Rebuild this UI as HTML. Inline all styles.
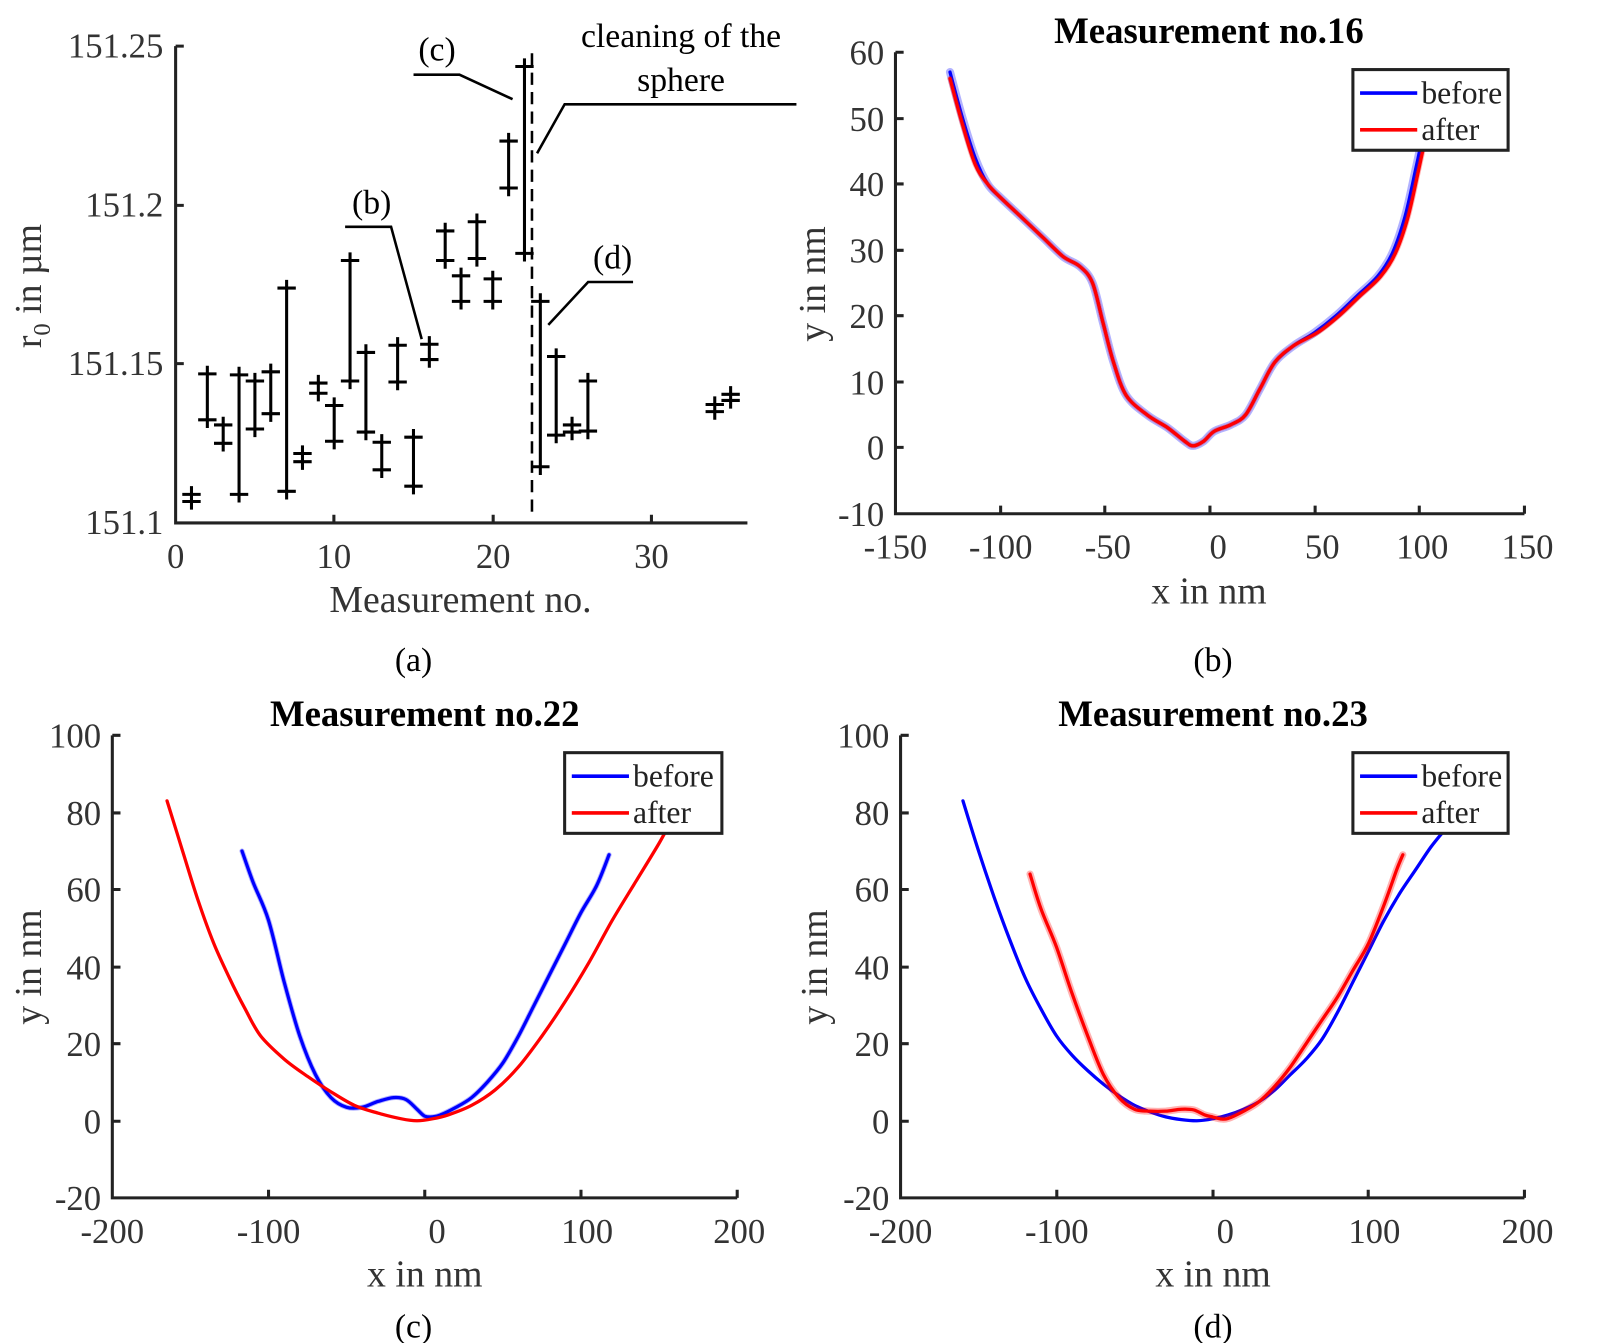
<!DOCTYPE html>
<html><head><meta charset="utf-8"><style>
html,body{margin:0;padding:0;background:#fff;}
svg{display:block;}
text{font-family:"Liberation Serif",serif;}
.t{font-size:34px;fill:#333;}
.xl{font-size:37px;fill:#333;}
.ti{font-size:36px;font-weight:bold;fill:#000;}
.lg{font-size:31px;fill:#222;}
.an{font-size:33px;fill:#000;}
</style></head><body>
<svg id="s" width="1600" height="1343" viewBox="0 0 1567 1315" xmlns="http://www.w3.org/2000/svg">
<g stroke="#222" stroke-width="3" fill="none">
<path d="M172,45 V512 H732"/>
<path d="M172,45 h8 M172,201 h8 M172,356 h8 M327,512 v-8 M483,512 v-8 M638,512 v-8"/>
<path d="M877,51 V503 H1493"/>
<path d="M877,51 h8 M877,116 h8 M877,180 h8 M877,245 h8 M877,309 h8 M877,374 h8 M877,438 h8 M980,503 v-8 M1082,503 v-8 M1185,503 v-8 M1288,503 v-8 M1390,503 v-8 M1493,503 v-8"/>
<path d="M110,720 V1173 H722"/>
<path d="M110,720 h8 M110,796 h8 M110,871 h8 M110,947 h8 M110,1022 h8 M110,1098 h8 M263,1173 v-8 M416,1173 v-8 M569,1173 v-8 M722,1173 v-8"/>
<path d="M882,720 V1173 H1493"/>
<path d="M882,720 h8 M882,796 h8 M882,871 h8 M882,947 h8 M882,1022 h8 M882,1098 h8 M1035,1173 v-8 M1188,1173 v-8 M1340,1173 v-8 M1493,1173 v-8"/>
</g>
<g id="ebars" stroke="#000" stroke-width="3" fill="none"></g>
<g stroke="#000" stroke-width="2.5" fill="none">
<path d="M521,52 V505" stroke-dasharray="12,7"/>
<path d="M405,73 H450 L502,97"/>
<path d="M780,102 H553 L526,150"/>
<path d="M338,222 H383 L413,332"/>
<path d="M620,276 H576 L537,318"/>
</g>
<g id="curves" fill="none" stroke-linejoin="round" stroke-linecap="round"></g>
<g class="t" text-anchor="end">
<text x="160" y="56">151.25</text><text x="160" y="212">151.2</text><text x="160" y="367">151.15</text><text x="160" y="523">151.1</text>
</g>
<g class="t" text-anchor="middle">
<text x="172" y="556">0</text><text x="327" y="556">10</text><text x="483" y="556">20</text><text x="638" y="556">30</text>
</g>
<g class="xl" text-anchor="middle">
<text x="451" y="599">Measurement no.</text>
<text transform="translate(40,280) rotate(-90)">r<tspan font-size="24" dy="9">0</tspan><tspan dy="-9"> in µm</tspan></text>
</g>
<g class="an" text-anchor="middle">
<text x="428" y="59">(c)</text><text x="364" y="209">(b)</text><text x="600" y="263">(d)</text>
<text x="667" y="46">cleaning of the</text><text x="667" y="89">sphere</text>
<text x="405" y="657">(a)</text><text x="1188" y="657">(b)</text><text x="405" y="1310">(c)</text><text x="1188" y="1310">(d)</text>
</g>
<text class="ti" x="1184" y="42" text-anchor="middle">Measurement no.16</text>
<g class="t" text-anchor="end">
<text x="866" y="63">60</text><text x="866" y="128">50</text><text x="866" y="192">40</text><text x="866" y="257">30</text><text x="866" y="321">20</text><text x="866" y="386">10</text><text x="866" y="450">0</text><text x="866" y="515">-10</text>
</g>
<g class="t" text-anchor="middle">
<text x="877" y="547">-150</text><text x="980" y="547">-100</text><text x="1085" y="547">-50</text><text x="1193" y="547">0</text><text x="1295" y="547">50</text><text x="1393" y="547">100</text><text x="1496" y="547">150</text>
</g>
<g class="xl" text-anchor="middle">
<text x="1184" y="591">x in nm</text>
<text transform="translate(808,278) rotate(-90)">y in nm</text>
</g>
<text class="ti" x="416" y="711" text-anchor="middle">Measurement no.22</text>
<g class="t" text-anchor="end">
<text x="99" y="732">100</text><text x="99" y="808">80</text><text x="99" y="883">60</text><text x="99" y="959">40</text><text x="99" y="1034">20</text><text x="99" y="1110">0</text><text x="99" y="1185">-20</text>
</g>
<g class="t" text-anchor="middle">
<text x="110" y="1217">-200</text><text x="263" y="1217">-100</text><text x="428" y="1217">0</text><text x="575" y="1217">100</text><text x="724" y="1217">200</text>
</g>
<g class="xl" text-anchor="middle">
<text x="416" y="1260">x in nm</text>
<text transform="translate(40,947) rotate(-90)">y in nm</text>
</g>
<text class="ti" x="1188" y="711" text-anchor="middle">Measurement no.23</text>
<g class="t" text-anchor="end">
<text x="871" y="732">100</text><text x="871" y="808">80</text><text x="871" y="883">60</text><text x="871" y="959">40</text><text x="871" y="1034">20</text><text x="871" y="1110">0</text><text x="871" y="1185">-20</text>
</g>
<g class="t" text-anchor="middle">
<text x="882" y="1217">-200</text><text x="1035" y="1217">-100</text><text x="1200" y="1217">0</text><text x="1346" y="1217">100</text><text x="1496" y="1217">200</text>
</g>
<g class="xl" text-anchor="middle">
<text x="1188" y="1260">x in nm</text>
<text transform="translate(810,947) rotate(-90)">y in nm</text>
</g>
<g fill="#fff" stroke="#222" stroke-width="3">
<rect x="1325" y="68" width="152" height="79"/>
<rect x="553" y="737" width="154" height="79"/>
<rect x="1325" y="737" width="152" height="79"/>
</g>
<g stroke-width="3.5">
<path d="M1332,91 h56" stroke="#00f"/><path d="M1332,127 h56" stroke="#f00"/>
<path d="M560,760 h56" stroke="#00f"/><path d="M560,796 h56" stroke="#f00"/>
<path d="M1332,760 h56" stroke="#00f"/><path d="M1332,796 h56" stroke="#f00"/>
</g>
<g class="lg">
<text x="1392" y="101">before</text><text x="1392" y="137">after</text>
<text x="620" y="770">before</text><text x="620" y="806">after</text>
<text x="1392" y="770">before</text><text x="1392" y="806">after</text>
</g>
</svg>
<script>
(function(){
var NS="http://www.w3.org/2000/svg";
function el(p,d,c,w,o){var e=document.createElementNS(NS,"path");e.setAttribute("d",d);e.setAttribute("stroke",c);e.setAttribute("stroke-width",w);if(o)e.setAttribute("stroke-opacity",o);p.appendChild(e);}
var eb=document.getElementById("ebars");
var bars=[[1,484,491],[2,366,411],[3,416,434],[4,367,484],[5,373,420],[6,364,405],[7,282,481],[8,444,452],[9,375,385],[10,397,432],[11,255,373],[12,345,423],[13,433,460],[14,338,374],[15,428,476],[16,337,352],[17,226,255],[18,270,295],[19,217,253],[20,273,295],[21,138,184],[22,65,248],[23,295,457],[24,349,426],[25,416,423],[26,373,422],[34,396,403],[35,386,392]];
var d="";
bars.forEach(function(b){var x=172+b[0]*15.53;d+="M"+x+","+(b[1]-8)+"V"+(b[2]+8)+"M"+(x-9)+","+b[1]+"h18M"+(x-9)+","+b[2]+"h18";});
el(eb,d,"#000",3);
var cv=document.getElementById("curves");
function path(pts,fx,fy){
 var P=pts.map(function(p){return [fx(p[0]),fy(p[1])]});
 var s="M"+P[0][0].toFixed(1)+","+P[0][1].toFixed(1);
 for(var i=0;i<P.length-1;i++){
  var p0=P[Math.max(i-1,0)],p1=P[i],p2=P[i+1],p3=P[Math.min(i+2,P.length-1)];
  var c1=[p1[0]+(p2[0]-p0[0])/6,p1[1]+(p2[1]-p0[1])/6],c2=[p2[0]-(p3[0]-p1[0])/6,p2[1]-(p3[1]-p1[1])/6];
  s+="C"+c1[0].toFixed(1)+","+c1[1].toFixed(1)+" "+c2[0].toFixed(1)+","+c2[1].toFixed(1)+" "+p2[0].toFixed(1)+","+p2[1].toFixed(1);
 }
 return s;}
function draw(pts,fx,fy,c,shade){var d=path(pts,fx,fy);if(shade)el(cv,d,c,shade,0.3);el(cv,d,c,3.2);}
var bx=function(x){return 877+(x+150)*2.053},by=function(y){return 51+(60-y)*6.457};
var b16=[[-124,57],[-118,50],[-112,44],[-106,40],[-100,38],[-90,35],[-80,32],[-70,29],[-62,27.5],[-56,25],[-51,19],[-46,13],[-40,8],[-30,5],[-20,3],[-12,1],[-8,0.3],[-3,1],[2,2.5],[10,3.5],[17,5],[24,9],[31,13],[40,15.5],[50,17.5],[60,20],[70,23],[80,26],[87,29.5],[93,35],[98,42],[102,48]];
var r16=b16.map(function(p){return [p[0]+(p[0]>40?1.5:0),p[1]-(p[0]<-110?1:0)]});
draw(b16,bx,by,"#00f",8);draw(r16,bx,by,"#f00",5);
var cx=function(x){return 110+(x+200)*1.53},cy=function(y){return 720+(100-y)*3.775};
var bc=[[-117,70],[-110,62],[-100,52],[-90,36],[-80,22],[-70,12],[-60,6],[-50,3.5],[-40,3.5],[-30,5],[-20,6],[-12,5.5],[-5,3],[0,1.2],[5,1],[10,1.5],[20,3.5],[30,6],[40,10],[50,15],[60,22],[70,30],[80,38],[90,46],[100,54],[110,61],[118,69]];
var rc=[[-165,83],[-155,70],[-145,57],[-135,46],[-125,37],[-115,29],[-105,22],[-90,16],[-75,11.5],[-60,7.5],[-45,4],[-30,2],[-15,0.5],[-5,0],[5,0.5],[15,1.5],[30,4],[45,8],[60,14],[75,22],[90,31],[105,41],[120,52],[135,62],[150,72],[158,78]];
draw(bc,cx,cy,"#00f",5);draw(rc,cx,cy,"#f00");
var dx=function(x){return 882+(x+200)*1.5275};
var bd=[[-160,83],[-150,70],[-140,58],[-130,47],[-120,37],[-110,29],[-100,22],[-90,17],[-80,13],[-70,9.5],[-60,6.5],[-50,4],[-40,2.3],[-30,1],[-20,0.3],[-10,0],[0,0.5],[10,1.5],[20,3],[30,5],[40,8],[50,12],[60,16],[70,21],[80,28],[90,36],[100,44],[110,52],[120,59],[130,65],[140,71],[150,76]];
var rd=[[-117,64],[-110,55],[-100,45],[-90,33],[-80,22],[-70,12],[-60,6],[-50,3],[-40,2.5],[-30,2.5],[-20,3],[-12,2.8],[-5,1.5],[0,1],[5,0.5],[10,0.6],[20,2.5],[30,5],[40,9],[50,14],[60,20],[70,26],[80,32],[90,39],[100,46],[110,56],[118,65],[122,69]];
draw(bd,dx,cy,"#00f");draw(rd,dx,cy,"#f00",7);
})();
</script>
</body></html>
